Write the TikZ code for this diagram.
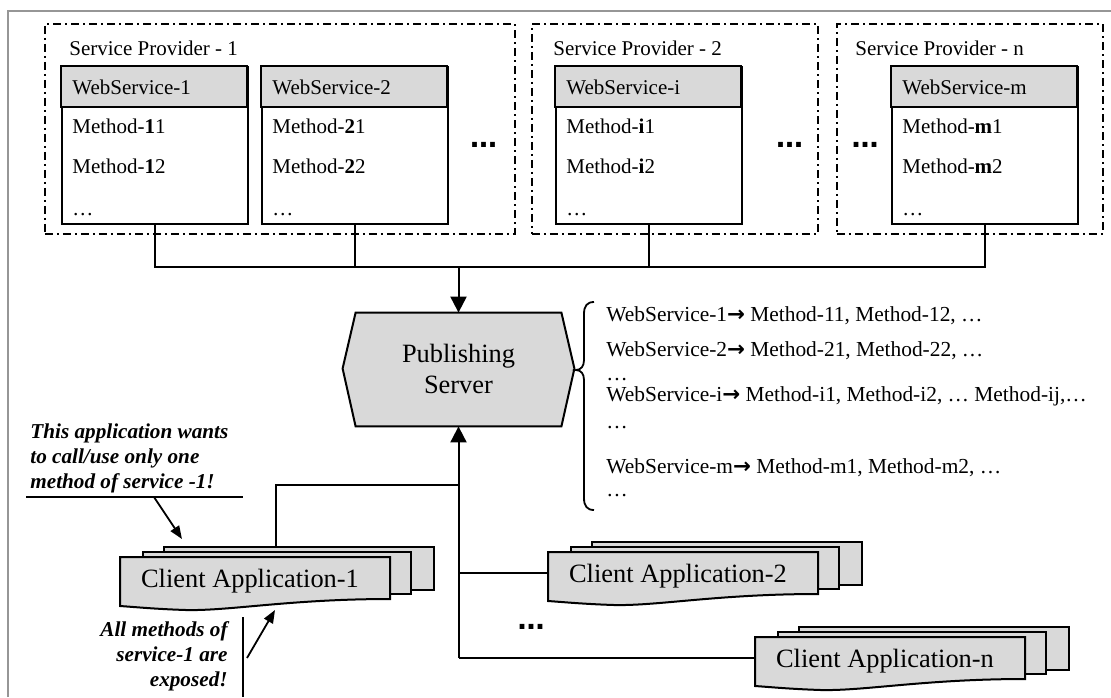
\documentclass[tikz,border=0pt]{standalone}
\usepackage{fontspec}
\setmainfont{Liberation Serif}
\newfontfamily\dejavu{DejaVu Sans}
\usetikzlibrary{arrows.meta,calc}
\definecolor{hdr}{RGB}{217,217,217}
\definecolor{framegray}{RGB}{150,150,150}
\tikzset{
  spframe/.style={draw, line width=0.75pt, dash pattern=on 4pt off 2pt on 1pt off 2pt, inner sep=0, anchor=north west, minimum height=105pt},
  wsframe/.style={draw, line width=1pt, inner sep=0, anchor=north west, minimum width=93pt, minimum height=78.5pt},
  hdrbox/.style={draw, line width=1pt, fill=hdr},
  boxtxt/.style={anchor=base west, inner sep=0, font=\fontsize{10.5}{12}\selectfont},
  listtxt/.style={anchor=base west, inner sep=0, font=\fontsize{10.7}{13}\selectfont},
  bigtxt/.style={anchor=base, inner sep=0, font=\fontsize{13.2}{16}\selectfont},
  bolddots/.style={anchor=base, inner sep=0, font=\dejavu\bfseries\fontsize{13.5}{14}\selectfont},
  conn/.style={line width=1pt},
  arr/.style={line width=1pt, -{Triangle[length=8pt,width=8pt]}},
  notearr/.style={line width=0.9pt, -{Triangle[length=6.5pt,width=5pt]}},
  notetxt/.style={inner sep=0, font=\bfseries\itshape\fontsize{10.6}{12}\selectfont},
  appbox/.style={draw, line width=1pt, fill=hdr, inner sep=0, anchor=north west},
  apptxt/.style={inner sep=0, minimum width=135pt, minimum height=21pt, text depth=0pt, font=\fontsize{13.2}{16}\selectfont},
}
\newcommand\wsbox[4]{%
  \node[wsframe] (#1) at (#2,66) {};
  \draw[hdrbox] (#2,66) rectangle (#2+186,107);
  \node[boxtxt] (#1h) at (#2+11,94.5) {#3};
  \node[boxtxt] (#1a) at (#2+11,133) {Method-\textbf{#4}1};
  \node[boxtxt] (#1b) at (#2+11,173) {Method-\textbf{#4}2};
  \node[boxtxt] (#1c) at (#2+11,215) {…};
}
\newcommand\clientapp[4]{%
  \node[appbox, minimum width=135pt, minimum height=21.5pt] (#1b) at (#2+43,#3-11) {};
  \node[appbox, minimum width=134pt, minimum height=21pt] (#1m) at (#2+22,#3-6) {};
  \draw[line width=1pt, fill=hdr] (#2,#3) -- (#2+270,#3) -- (#2+270,#3+42)
     .. controls (#2+170,#3+42) and (#2+110,#3+54) .. (#2+66,#3+53)
     .. controls (#2+35,#3+52) and (#2+15,#3+50) .. (#2,#3+49) -- cycle;
  \node[apptxt] (#1) at (#2+135,#3+21) {#4\hspace*{5pt}};
}
\begin{document}
\begin{tikzpicture}[x=0.5pt,y=-0.5pt]
\useasboundingbox (0,0) rectangle (1111,697);
\draw[framegray, line width=1pt] (8,697) -- (8,11) -- (1111,11);

% service providers
\node[spframe, minimum width=235pt] (sp1) at (44,23) {};
\node[spframe, minimum width=143pt] (sp2) at (531,23) {};
\node[spframe, minimum width=133pt] (spn) at (836,23) {};
\node[boxtxt] (sp1t) at (69,55) {Service Provider - 1};
\node[boxtxt] (sp2t) at (553,55) {Service Provider - 2};
\node[boxtxt] (spnt) at (855,55) {Service Provider - n};

\wsbox{ws1}{61}{WebService-1}{1}
\wsbox{ws2}{261}{WebService-2}{2}
\wsbox{wsi}{555}{WebService-i}{i}
\wsbox{wsm}{891}{WebService-m}{m}

\node[bolddots] (d1) at (483.5,147) {…};
\node[bolddots] (d2) at (789.5,147) {…};
\node[bolddots] (d3) at (865,147) {…};
\node[bolddots] (d4) at (531,629) {…};

% publishing server
\node[inner sep=0, minimum width=102.5pt, minimum height=56.5pt] (pub) at (458.5,369.5) {};
\draw[line width=1pt, fill=hdr] (pub.north west) -- (pub.north east) -- ($(pub.east)+(13,-1)$)
  -- (pub.south east) -- (pub.south west) -- ($(pub.west)+(-13,-1)$) -- cycle;
\node[bigtxt] (pubt1) at (458.5,362) {Publishing};
\node[bigtxt] (pubt2) at (458.5,393) {Server};

% bus to publishing server
\coordinate (bus) at (458.5,267);
\draw[conn] (ws1.south) |- (bus) -| (wsm.south);
\draw[conn] (ws2.south) -- (ws2.south |- bus);
\draw[conn] (wsi.south) -- (wsi.south |- bus);
\draw[arr] (bus) -- (pub.north);

% brace and list
\draw[line width=0.9pt] (594,302) .. controls (587,302) and (584,306) .. (584,314) -- (584,360)
  .. controls (584,366) and (581,370) .. (576,370) .. controls (581,370) and (584,374) .. (584,380)
  -- (584,498) .. controls (584,506) and (587,510) .. (594,510);
\node[listtxt] (l1) at (606,321) {WebService-1{\dejavu\bfseries →} Method-11, Method-12, …};
\node[listtxt] (l2) at (606,356) {WebService-2{\dejavu\bfseries →} Method-21, Method-22, …};
\node[listtxt] (l3) at (606,380) {…};
\node[listtxt] (l4) at (606,401) {WebService-i{\dejavu\bfseries →} Method-i1, Method-i2, … Method-ij,…};
\node[listtxt] (l5) at (606,428) {…};
\node[listtxt] (l6) at (606,473) {WebService-m{\dejavu\bfseries →} Method-m1, Method-m2, …};
\node[listtxt] (l7) at (606,496) {…};

% client applications
\clientapp{app1}{120}{557}{Client Application-1}
\clientapp{app2}{548}{552}{Client Application-2}
\clientapp{appn}{755}{637}{Client Application-n}

\coordinate (jn) at (pub.south |- appn.west);
\coordinate (j1) at (458.5,485);
\draw[arr] (jn) -- (pub.south);
\draw[conn] (appn.west) -- (jn);
\draw[conn] (app2.west) -- (app2.west -| pub.south);
\draw[conn] ($(app1b.north west)+(113,0)$) |- (j1);

% notes
\node[notetxt, anchor=base west] (na1) at (30,438) {This application wants};
\node[notetxt, anchor=base west] (na2) at (30,463) {to call/use only one};
\node[notetxt, anchor=base west] (na3) at (30,488) {method of service -1!};
\coordinate (ul0) at (26,497);
\coordinate (ul1) at (243,497);
\draw[conn] (ul0) -- (ul1);
\coordinate (ua0) at (154,497);
\coordinate (ua1) at (182,539);
\draw[notearr] (ua0) -- (ua1);

\node[notetxt, anchor=base east] (nb1) at (228,636) {All methods of};
\node[notetxt, anchor=base east] (nb2) at (228,661) {service-1 are};
\node[notetxt, anchor=base east] (nb3) at (228,686) {exposed!};
\coordinate (vl0) at (243,617);
\coordinate (vl1) at (243,697);
\draw[conn] (vl0) -- (vl1);
\coordinate (lb0) at (247,658);
\coordinate (lb1) at (275,610);
\draw[notearr] (lb0) -- (lb1);
\end{tikzpicture}
\end{document}
